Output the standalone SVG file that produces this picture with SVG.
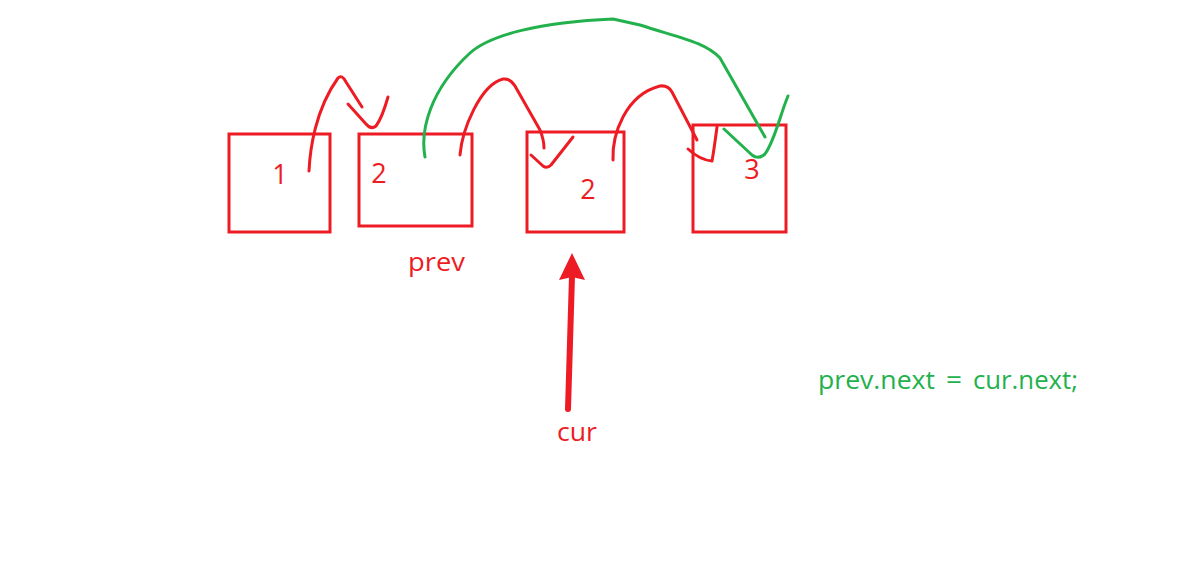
<svg xmlns="http://www.w3.org/2000/svg" width="1196" height="571" viewBox="0 0 1196 571">
<style>
.box{fill:none;stroke:#ED1C24;stroke-width:3}
.num{font-family:"Open Sans","Liberation Sans",sans-serif;font-size:27px;fill:#ED1C24;text-anchor:middle}
.lbl{font-family:"Open Sans","Liberation Sans",sans-serif;font-size:25px;fill:#ED1C24}
.code{font-family:"Open Sans","Liberation Sans",sans-serif;font-size:25px;fill:#22B14C}
.r{fill:none;stroke:#ED1C24;stroke-width:3;stroke-linecap:round;stroke-linejoin:round}
.g{fill:none;stroke:#22B14C;stroke-width:3;stroke-linecap:round;stroke-linejoin:round}
</style>
<rect width="1196" height="571" fill="#fff"/>
<g id="node1"><rect class="box" x="229" y="134" width="101" height="98"/><text class="num" x="280" y="184">1</text></g>
<g id="node2"><rect class="box" x="359" y="134" width="113" height="92"/><text class="num" x="379" y="183">2</text></g>
<g id="node3"><rect class="box" x="527" y="132" width="97" height="100"/><text class="num" x="588" y="199">2</text></g>
<g id="node4"><rect class="box" x="693" y="125" width="93" height="107"/><text class="num" x="752" y="179">3</text></g>
<g id="labels">
<text class="lbl" x="408" y="271" textLength="57" lengthAdjust="spacingAndGlyphs">prev</text>
<text class="lbl" x="557" y="441" textLength="40" lengthAdjust="spacingAndGlyphs">cur</text>
<text class="code" y="389"><tspan x="818" textLength="117" lengthAdjust="spacingAndGlyphs">prev.next</tspan><tspan x="946" textLength="16" lengthAdjust="spacingAndGlyphs">=</tspan><tspan x="973" textLength="105" lengthAdjust="spacingAndGlyphs">cur.next;</tspan></text>
</g>
<g id="connectors">
<path class="r" d="M309,171 C310,150 315,110 338,78 Q342,74 346,82 L362,107"/>
<path class="r" d="M348,104 L366,124 Q371,130 376,126 Q382,118 388,97"/>
<path class="r" d="M460,155 C462,130 480,85 503,79 Q510,78 515,86 L540,130 Q544,140 544,148"/>
<path class="r" d="M531,155 L543,166 Q547,169 551,165 L573,137"/>
<path class="r" d="M613,160 C612,135 625,95 660,86 Q668,85 672,92 L697,140"/>
<path class="r" d="M688,149 Q700,160 712,161 Q714,150 717,127"/>
<path class="g" d="M425,157 C420,130 430,90 470,53 C490,35 540,22 613,19 L640,25 C680,38 705,42 720,58 L765,137"/>
<path class="g" d="M724,129 L752,155 Q758,160 765,154 C775,140 780,115 788,96"/>
<line x1="568" y1="409" x2="572" y2="276" stroke="#ED1C24" stroke-width="6" stroke-linecap="round"/>
<polygon points="572,253 559,280 572,277 585,280" fill="#ED1C24"/>
</g>
</svg>
